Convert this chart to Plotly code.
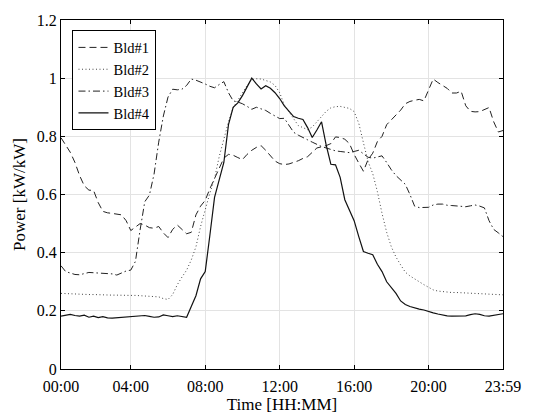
import plotly.graph_objects as go

# time index: 15-min samples, index 1..96 (index 16 = 04:00)
time_index = list(range(1, 97))

tick_index = [1, 16, 32, 48, 64, 80, 96]
tick_labels = ["00:00", "04:00", "08:00", "12:00", "16:00", "20:00", "23:59"]

bld1 = [0.795, 0.77, 0.745, 0.71, 0.665, 0.63, 0.615, 0.614, 0.572, 0.542, 0.537, 0.535,
        0.532, 0.53, 0.51, 0.476, 0.488, 0.50, 0.495, 0.486, 0.484, 0.49, 0.468, 0.452,
        0.48, 0.495, 0.48, 0.465, 0.47, 0.53, 0.56, 0.58, 0.62, 0.655, 0.69, 0.725,
        0.738, 0.735, 0.727, 0.72, 0.738, 0.752, 0.762, 0.768, 0.752, 0.733, 0.715, 0.706,
        0.703, 0.705, 0.71, 0.716, 0.724, 0.73, 0.745, 0.76, 0.764, 0.768, 0.775, 0.798,
        0.796, 0.79, 0.775, 0.738, 0.708, 0.68, 0.72, 0.742, 0.782, 0.80, 0.84, 0.856,
        0.872, 0.89, 0.912, 0.92, 0.924, 0.927, 0.922, 0.96, 0.997, 0.985, 0.976, 0.965,
        0.949, 0.949, 0.955, 0.905, 0.886, 0.884, 0.885, 0.893, 0.899, 0.85, 0.815, 0.82]

bld2 = [0.26, 0.259, 0.258, 0.258, 0.257, 0.257, 0.256, 0.256, 0.255, 0.255, 0.254, 0.254,
        0.254, 0.253, 0.253, 0.253, 0.253, 0.252, 0.252, 0.251, 0.25, 0.248, 0.242, 0.239,
        0.256, 0.29, 0.316, 0.34, 0.375, 0.42, 0.49, 0.55, 0.605, 0.655, 0.73, 0.79,
        0.85, 0.898, 0.924, 0.95, 0.975, 0.995, 0.998, 0.997, 0.993, 0.987, 0.975, 0.95,
        0.908, 0.884, 0.86, 0.837, 0.83, 0.823, 0.832, 0.85, 0.866, 0.886, 0.898, 0.902,
        0.903, 0.90, 0.896, 0.885, 0.845, 0.778, 0.713, 0.672, 0.61, 0.535, 0.47, 0.42,
        0.385, 0.358, 0.333, 0.32, 0.311, 0.30, 0.29, 0.28, 0.272, 0.268, 0.266, 0.264,
        0.263, 0.263, 0.262, 0.262, 0.261, 0.26, 0.259, 0.258, 0.257, 0.256, 0.256, 0.255]

bld3 = [0.355, 0.335, 0.33, 0.325, 0.324, 0.328, 0.332, 0.331, 0.33, 0.33, 0.329, 0.327,
        0.323, 0.33, 0.337, 0.34, 0.37, 0.478, 0.575, 0.598, 0.67, 0.78, 0.87, 0.935,
        0.962, 0.96, 0.962, 0.975, 0.997, 0.993, 0.987, 0.98, 0.972, 0.967, 0.978, 0.988,
        0.95, 0.922, 0.918, 0.912, 0.903, 0.893, 0.90, 0.895, 0.889, 0.879, 0.87, 0.861,
        0.862, 0.836, 0.814, 0.804, 0.797, 0.788, 0.78, 0.772, 0.765, 0.76, 0.755, 0.75,
        0.748, 0.746, 0.744, 0.748, 0.752, 0.74, 0.728, 0.725, 0.73, 0.733, 0.71, 0.685,
        0.665, 0.65, 0.635, 0.60, 0.56, 0.555, 0.556, 0.556, 0.564, 0.567, 0.567, 0.563,
        0.562, 0.561, 0.559, 0.558, 0.561, 0.564, 0.56, 0.554, 0.51, 0.48, 0.468, 0.455]

bld4 = [0.182, 0.185, 0.188, 0.184, 0.182, 0.185, 0.178, 0.182, 0.177, 0.18, 0.176, 0.175,
        0.176, 0.178, 0.18, 0.179, 0.181, 0.182, 0.184, 0.181, 0.178, 0.179, 0.186, 0.183,
        0.18, 0.183, 0.18, 0.178, 0.215, 0.252, 0.31, 0.335, 0.46, 0.59, 0.65, 0.71,
        0.84, 0.90, 0.915, 0.94, 0.97, 1.0, 0.98, 0.963, 0.974, 0.965, 0.95, 0.93,
        0.905, 0.885, 0.868, 0.862, 0.858, 0.83, 0.796, 0.822, 0.85, 0.77, 0.704, 0.702,
        0.659, 0.582, 0.545, 0.51, 0.455, 0.404, 0.398, 0.393, 0.36, 0.335, 0.30, 0.28,
        0.26, 0.234, 0.222, 0.215, 0.21, 0.206, 0.203, 0.197, 0.193, 0.189, 0.185, 0.183,
        0.182, 0.182, 0.183, 0.183, 0.187, 0.19, 0.188, 0.183, 0.182, 0.185, 0.187, 0.19]

series_names = ["Bld#1", "Bld#2", "Bld#3", "Bld#4"]
y_ticks = [0, 0.2, 0.4, 0.6, 0.8, 1.0, 1.2]
y_tick_labels = ["0", "0.2", "0.4", "0.6", "0.8", "1", "1.2"]

for s in (bld1, bld2, bld3, bld4):
    assert len(s) == 96, len(s)

FONT = "Liberation Serif"
styles = [
    dict(color="#222222", width=1, dash="7px,4px"),
    dict(color="#444444", width=1, dash="1px,2.5px"),
    dict(color="#222222", width=1, dash="7px,3px,1.5px,3px"),
    dict(color="#111111", width=1.2, dash="solid"),
]

fig = go.Figure()
for name, vals, st in zip(series_names, (bld1, bld2, bld3, bld4), styles):
    fig.add_trace(go.Scatter(x=time_index, y=vals, mode="lines", name=name, line=st))

axis_common = dict(
    showline=True, linecolor="black", linewidth=1, mirror="ticks",
    ticks="inside", ticklen=4, tickcolor="black", tickwidth=1,
    showgrid=True, gridcolor="#e3e3e3", gridwidth=1, zeroline=False,
    tickfont=dict(family=FONT, size=16, color="black"),
)

fig.update_layout(
    width=533, height=419,
    margin=dict(l=61, r=30, t=15, b=48),
    paper_bgcolor="white", plot_bgcolor="white",
    font=dict(family=FONT, color="black"),
    xaxis=dict(range=[1, 96], tickvals=tick_index, ticktext=tick_labels,
               ticklabelstandoff=3,
               title=dict(text="Time [HH:MM]", font=dict(family=FONT, size=17), standoff=0),
               **axis_common),
    yaxis=dict(range=[0, 1.2], tickvals=y_ticks, ticktext=y_tick_labels,
               title=dict(text="Power [kW/kW]", font=dict(family=FONT, size=17), standoff=6),
               **axis_common),
    legend=dict(x=0.026, y=0.97, xanchor="left", yanchor="top",
                bgcolor="white", bordercolor="black", borderwidth=1,
                font=dict(family=FONT, size=14.5, color="black"),
                tracegroupgap=0, itemwidth=30),
    showlegend=True,
)

fig.write_html("out.html", config={"displayModeBar": False},
               post_script="document.body.style.margin='0px';")
